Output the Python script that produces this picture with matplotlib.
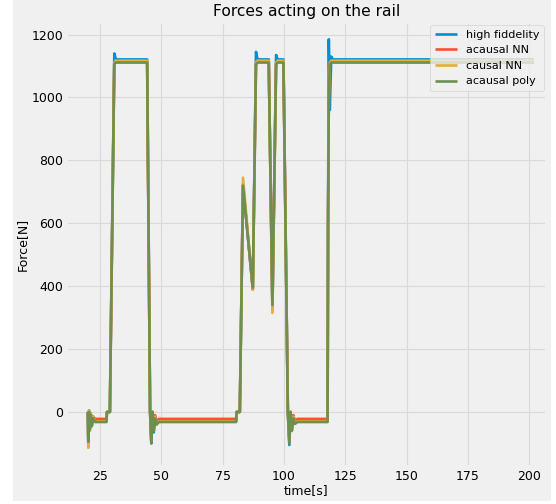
import matplotlib
matplotlib.use('Agg')
import matplotlib.pyplot as plt
from matplotlib.patches import Rectangle

plt.style.use('fivethirtyeight')

# time samples (s)
t = [20.0, 20.2, 20.5, 20.8, 21.2, 21.6, 22.2, 23.0, 27.6, 27.8,
     29.0, 30.8, 31.3, 31.8, 44.2, 45.4, 45.9, 46.4, 46.9, 47.4,
     48.0, 49.0, 80.5, 80.7, 82.0, 83.3, 87.3, 88.6, 89.2, 93.8,
     95.3, 96.8, 97.4, 99.8, 101.6, 102.2, 102.7, 103.2, 103.8, 104.5,
     105.5, 117.8, 118.0, 118.3, 118.7, 119.3, 120.0, 202.0]

high_fid = [0, -105, 5, -60, -5, -45, -15, -28, -28, 0,
            0, 1140, 1125, 1121, 1121, 0, -100, 0, -65, -15,
            -40, -28, -28, 0, 0, 720, 390, 1145, 1121, 1121,
            330, 1135, 1121, 1121, 0, -105, 0, -60, -15, -35,
            -28, -28, 650, 1185, 960, 1130, 1121, 1121]

acausal_nn = [0, -90, 0, -45, -5, -35, -15, -22, -22, 0,
              0, 1110, 1115, 1115, 1115, 0, -90, 0, -55, -10,
              -30, -22, -22, 0, 0, 725, 390, 1110, 1115, 1115,
              325, 1110, 1115, 1115, 0, -90, 0, -50, -10, -28,
              -22, -22, 600, 1000, 1110, 1115, 1115, 1115]

causal_nn = [0, -114, 5, -60, -5, -45, -15, -30, -30, 0,
             0, 1110, 1117, 1117, 1117, 0, -95, 0, -60, -15,
             -40, -30, -30, 0, 0, 745, 390, 1110, 1117, 1117,
             315, 1110, 1117, 1117, 0, -95, 0, -60, -15, -35,
             -30, -30, 600, 1000, 1110, 1117, 1117, 1117]

acausal_poly = [0, -95, 0, -55, -10, -45, -20, -32, -32, 0,
                0, 1105, 1111, 1111, 1111, 0, -100, 0, -60, -20,
                -40, -32, -32, 0, 0, 720, 395, 1105, 1111, 1111,
                340, 1105, 1111, 1111, 0, -100, 0, -60, -20, -38,
                -32, -32, 600, 1000, 1105, 1111, 1111, 1111]

fig = plt.figure(figsize=(5.56, 5.04), dpi=100, facecolor='white')
# grey panel like the original screenshot (white border around it)
fig.patches.append(Rectangle((13 / 556, 3 / 504), 538 / 556, 501 / 504,
                             transform=fig.transFigure, facecolor='#f0f0f0',
                             edgecolor='none', zorder=-10))
ax = fig.add_axes([66 / 556, 37 / 504, 481 / 556, 445 / 504])

ax.plot(t, high_fid, lw=1.9, label='high fiddelity')
ax.plot(t, acausal_nn, lw=1.9, label='acausal NN')
ax.plot(t, causal_nn, lw=1.9, label='causal NN')
ax.plot(t, acausal_poly, lw=1.9, label='acausal poly')

ax.set_xlim(11.1, 207.3)
ax.set_ylim(-175, 1240)
ax.set_xticks([25, 50, 75, 100, 125, 150, 175, 200])
ax.set_yticks([0, 200, 400, 600, 800, 1000, 1200])
ax.tick_params(labelsize=9, pad=2)
ax.grid(True, color='#d9d9d9', linewidth=0.8)

ax.set_title('Forces acting on the rail', fontsize=11.2, pad=4)
ax.set_xlabel('time[s]', fontsize=9, labelpad=1)
ax.set_ylabel('Force[N]', fontsize=9, labelpad=2)
ax.legend(loc='upper right', fontsize=8, handlelength=2, borderaxespad=0.3)

plt.savefig('out.png', dpi=100, facecolor='white')
